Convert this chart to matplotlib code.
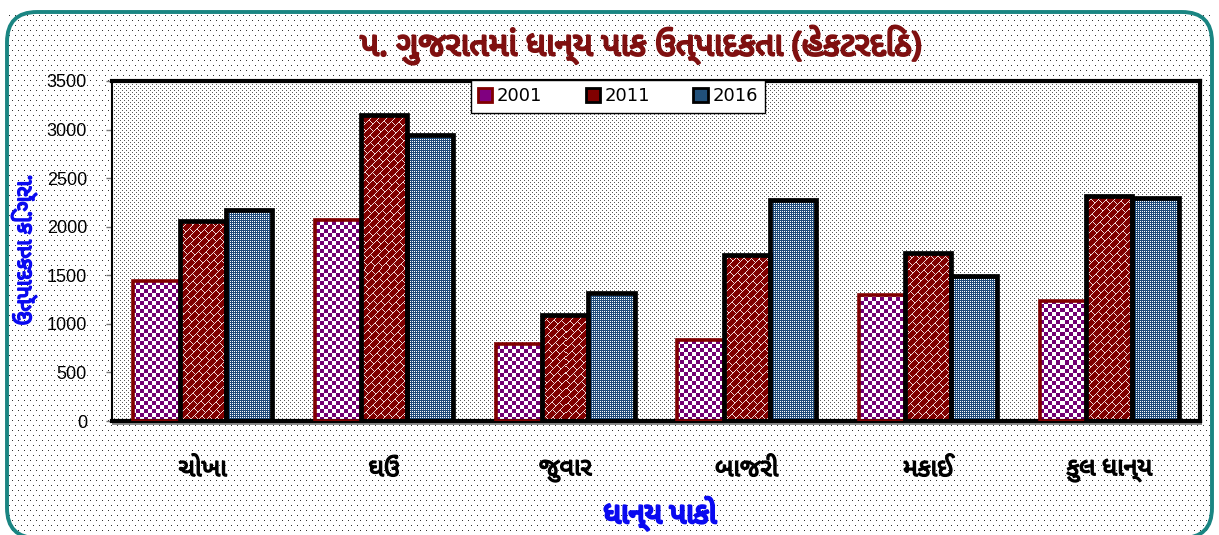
import matplotlib

matplotlib.use("Agg")

import matplotlib.pyplot as plt
import matplotlib.patheffects as pe
import numpy as np
from matplotlib.patches import FancyBboxPatch, Patch


CROPS = ["ચોખા", "ઘઉં", "જુવાર", "બાજરી", "મકાઈ", "કુલ ધાન્ય"]
YEARS = ["2001", "2011", "2016"]
YIELD_2001 = [1438, 2071, 790, 838, 1297, 1232]
YIELD_2011 = [2056, 3152, 1088, 1713, 1726, 2313]
YIELD_2016 = [2174, 2946, 1315, 2279, 1490, 2293]
Y_TICKS = [0, 500, 1000, 1500, 2000, 2500, 3000, 3500]

TITLE = "પ. ગુજરાતમાં ધાન્ય પાક ઉત્પાદકતા (હેકટરદિઠ)"
X_LABEL = "ધાન્ય પાકો"
Y_LABEL = "ઉત્પાદકતા કિ.ગ્રા."

GUJ_FONTS = ["Noto Sans Gujarati", "Noto Serif Gujarati", "Lohit Gujarati", "DejaVu Sans"]

W, H = 1219, 535
# plot area in pixels (left, top, right, bottom)
PL, PT, PR, PB = 112, 81, 1200, 421
Y_MAX = 3500


def _background() -> np.ndarray:
    """Sparse dots over the card, denser grey dots inside the plot area."""
    yy, xx = np.mgrid[0:H, 0:W]
    bg = np.ones((H, W, 3))
    sparse = (yy % 5 == 0) & ((xx + 3 * ((yy // 5) % 2)) % 6 == 0)
    inside = (xx > 8) & (xx < W - 8) & (yy > 14)
    bg[sparse & inside] = 0.2
    plot = (xx > PL) & (xx < PR) & (yy > PT) & (yy < PB)
    bg[plot] = 1.0
    dense = ((xx % 4 == 0) & (yy % 4 == 0)) | ((xx % 4 == 2) & (yy % 4 == 2))
    bg[plot & dense] = 0.35
    # grey shadow just under the x axis line
    bg[PB + 2:PB + 4, PL:PR + 2] = 0.55
    return bg


def _texture(kind: str) -> np.ndarray:
    """Pixel pattern covering the whole plot area, one pixel per screen pixel."""
    h, w = PB - PT, PR - PL
    yy, xx = np.mgrid[0:h, 0:w]
    tex = np.ones((h, w, 3))
    if kind == "2001":
        mask = ((xx // 4 + yy // 4) % 2) == 0
        tex[mask] = (0.45, 0.0, 0.45)
    elif kind == "2011":
        tex[:] = (0.5, 0.0, 0.0)
        u = xx + yy
        v = xx - yy
        band = u // 8
        lines = u % 8 == 0
        bricks = ((v + 7 * (band % 2)) % 14 == 0)
        tex[lines | bricks] = (0.95, 0.85, 0.85)
    else:
        tex[:] = (0.13, 0.3, 0.48)
        mask = (xx % 2 == 0) & (yy % 2 == 0)
        tex[mask] = 1.0
    return tex


def _fill_bars(ax, bars, tex, xlim):
    """Paint each bar with the slice of the texture that lies under it."""
    px_x = (PR - PL) / (xlim[1] - xlim[0])
    px_y = (PB - PT) / Y_MAX
    rows = PB - PT
    for bar in bars:
        c0 = int(round((bar.get_x() - xlim[0]) * px_x))
        c1 = int(round((bar.get_x() + bar.get_width() - xlim[0]) * px_x))
        r0 = int(round((Y_MAX - bar.get_height()) * px_y))
        ax.imshow(
            tex[r0:rows, c0:c1],
            extent=(xlim[0] + c0 / px_x, xlim[0] + c1 / px_x, 0, Y_MAX - r0 / px_y),
            aspect="auto", interpolation="nearest", zorder=2,
        )


def _bold(color: str, width: float = 1.0) -> list:
    return [pe.withStroke(linewidth=width, foreground=color)]


fig = plt.figure(figsize=(W / 100, H / 100), dpi=100)
fig.figimage(_background(), xo=0, yo=0, origin="upper", zorder=-2)

card = FancyBboxPatch(
    (0.07, -0.03), 12.19 - 0.14, 5.35 - 0.12 + 0.03,
    boxstyle="round,pad=0,rounding_size=0.3",
    transform=fig.dpi_scale_trans,
    facecolor="none", edgecolor="#1a8582", linewidth=2.8, zorder=1,
)
fig.patches.append(card)

ax = fig.add_axes([PL / W, 1 - PB / H, (PR - PL) / W, (PB - PT) / H])
ax.patch.set_alpha(0)

x = np.arange(len(CROPS))
width = 0.255
xlim = (-0.5, len(CROPS) - 0.5)
series = [
    (YIELD_2001, -width, "2001", "#800000", 2.6),
    (YIELD_2011, 0.0, "2011", "black", 3.4),
    (YIELD_2016, width, "2016", "black", 3.4),
]
for values, offset, kind, edge, lw in series:
    bars = ax.bar(x + offset, values, width, facecolor="none",
                  edgecolor=edge, linewidth=lw, zorder=3)
    _fill_bars(ax, bars, _texture(kind), xlim)

ax.set_xlim(*xlim)
ax.set_ylim(0, Y_MAX)
ax.set_yticks(Y_TICKS)
ax.set_yticklabels([str(t) for t in Y_TICKS], fontsize=13, family="Liberation Sans")
ax.set_xticks(x)
ax.set_xticklabels(CROPS, fontsize=18, fontweight="bold", family=GUJ_FONTS)
for label in ax.get_xticklabels():
    label.set_path_effects(_bold("black", 1.0))
ax.tick_params(axis="x", length=0, pad=26)
ax.tick_params(axis="y", length=4, width=1, color="#777777", pad=14)

for side in ["top", "right", "bottom"]:
    ax.spines[side].set_linewidth(3)
ax.spines["left"].set_linewidth(1.5)

handles = [
    Patch(facecolor="#800080", edgecolor="#800000", linewidth=2),
    Patch(facecolor="#800000", edgecolor="black", linewidth=2),
    Patch(facecolor="#21507a", edgecolor="black", linewidth=2),
]
leg = ax.legend(handles, YEARS, loc="center", bbox_to_anchor=(0.465, 0.955),
                ncol=3, fontsize=13, frameon=True, fancybox=False,
                edgecolor="black", framealpha=1, handlelength=0.8,
                handleheight=0.8, handletextpad=0.25, columnspacing=2.4,
                borderpad=0.4, borderaxespad=0)
leg.get_frame().set_linewidth(1)
leg.set_zorder(6)

fig.text(641 / W, 1 - 45 / H, TITLE, ha="center", va="center", fontsize=24,
         fontweight="bold", color="#7f1010", family=GUJ_FONTS,
         path_effects=_bold("#7f1010", 1.6))
fig.text(660 / W, 1 - 514 / H, X_LABEL, ha="center", va="center", fontsize=21,
         fontweight="bold", color="#0a0af0", family=GUJ_FONTS,
         path_effects=_bold("#0a0af0", 1.8))
fig.text(24 / W, 1 - 250 / H, Y_LABEL, ha="center", va="center", fontsize=16,
         fontweight="bold", color="#0a0af0", rotation=90, family=GUJ_FONTS,
         path_effects=_bold("#0a0af0", 1.2))

fig.savefig("out.png", dpi=100)
